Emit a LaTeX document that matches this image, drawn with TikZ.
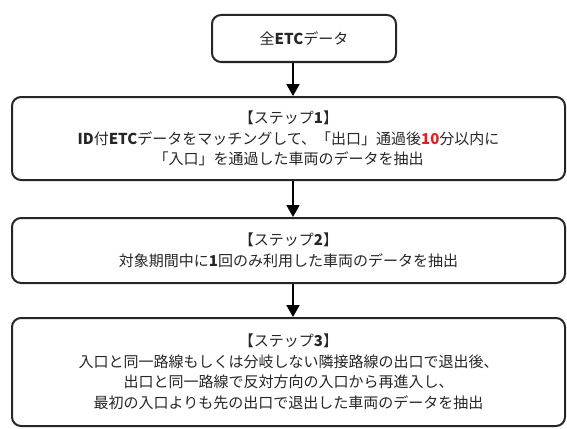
\documentclass[tikz,border=0pt]{standalone}
\usepackage{fontspec}
\setmainfont{Noto Sans CJK JP}
\usetikzlibrary{arrows.meta}
\definecolor{accent}{RGB}{228,30,30}
\tikzset{
  flowbox/.style={draw=black!85, line width=2pt, rounded corners=9pt, align=center,
    inner sep=0pt, font=\fontsize{15}{20.5}\selectfont, text=black!85},
  flowarrow/.style={line width=2pt, draw=black, -{Triangle[length=12pt,width=13pt]}}
}
\begin{document}
\begin{tikzpicture}[x=1pt,y=1pt]
\useasboundingbox (0,0) rectangle (567,-428);
\node[flowbox, minimum width=184pt, minimum height=47pt] (top) at (304,-38.5) {全\textbf{ETC}データ};
\node[flowbox, minimum width=553pt, minimum height=83pt] (s1) at (288.5,-138.5)
  {【ステップ\textbf{1}】\\\textbf{ID}付\textbf{ETC}データをマッチングして、「出口」通過後\textcolor{accent}{\textbf{10}}分以内に\\「入口」を通過した車両のデータを抽出};
\node[flowbox, minimum width=553pt, minimum height=65pt] (s2) at (288.5,-250.5)
  {【ステップ\textbf{2}】\\対象期間中に\textbf{1}回のみ利用した車両のデータを抽出};
\node[flowbox, minimum width=553pt, minimum height=108pt] (s3) at (288.5,-372)
  {【ステップ\textbf{3}】\\入口と同一路線もしくは分岐しない隣接路線の出口で退出後、\\出口と同一路線で反対方向の入口から再進入し、\\最初の入口よりも先の出口で退出した車両のデータを抽出};
\coordinate (ax) at (293,0);
\draw[flowarrow] (top.south -| ax) -- (s1.north -| ax);
\draw[flowarrow] (s1.south -| ax) -- (s2.north -| ax);
\draw[flowarrow] (s2.south -| ax) -- (s3.north -| ax);
\end{tikzpicture}
\end{document}
